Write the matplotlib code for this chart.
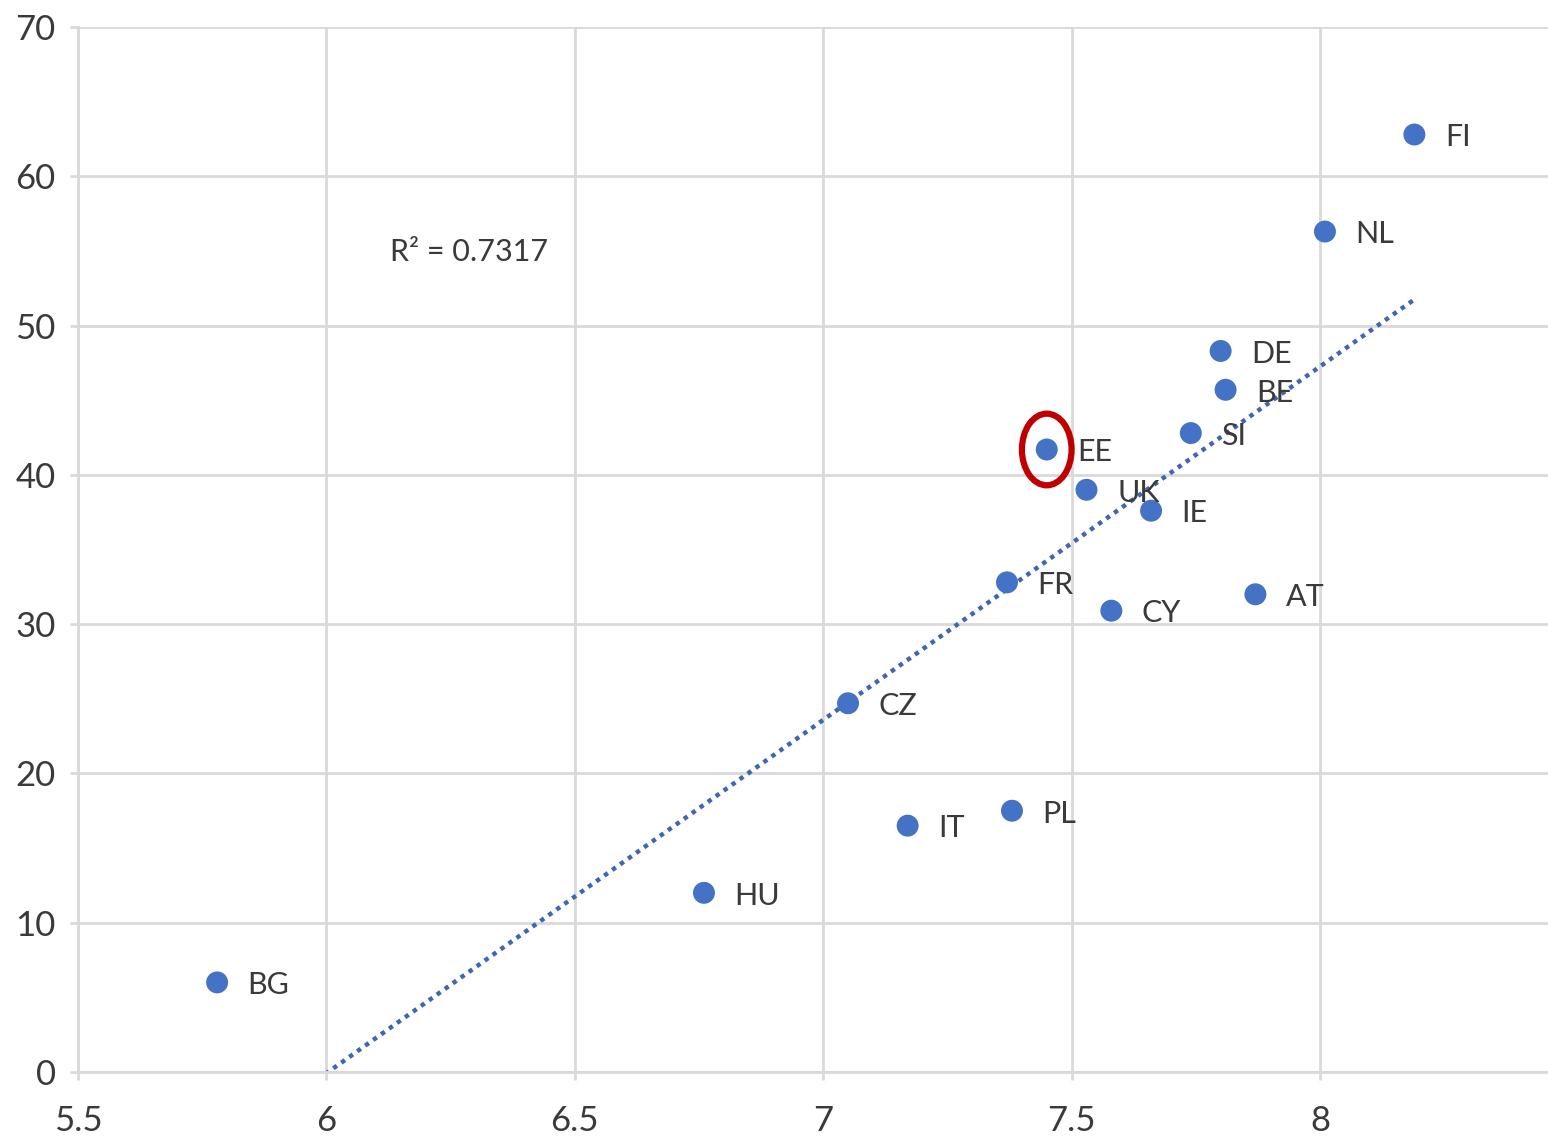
import matplotlib

matplotlib.use("Agg")

import matplotlib.pyplot as plt  # noqa: E402
import numpy as np  # noqa: E402
from matplotlib.patches import Ellipse  # noqa: E402

countries = ["BG", "HU", "IT", "PL", "CZ", "FR", "CY", "AT", "IE", "UK",
             "EE", "SI", "BE", "DE", "NL", "FI"]
x_values = [5.78, 6.76, 7.17, 7.38, 7.05, 7.37, 7.58, 7.87, 7.66, 7.53,
            7.45, 7.74, 7.81, 7.80, 8.01, 8.19]
y_values = [6.0, 12.0, 16.5, 17.5, 24.7, 32.8, 30.9, 32.0, 37.6, 39.0,
            41.7, 42.8, 45.7, 48.3, 56.3, 62.8]
highlight = "EE"
r_squared_label = "R\u00b2 = 0.7317"
x_ticks = [5.5, 6, 6.5, 7, 7.5, 8]
y_ticks = [0, 10, 20, 30, 40, 50, 60, 70]

BLUE = "#4472C4"
GRID = "#D9D9D9"
TEXT = "#3A3A3A"
FONT = ["Lato", "DejaVu Sans"]

plt.rcParams["font.family"] = FONT

fig = plt.figure(figsize=(15.48, 11.41), dpi=100)
ax = fig.add_axes([0.0504, 0.0605, 0.9496, 0.9158])
ax.set_xlim(5.5, 8.459)
ax.set_ylim(0, 70)

# trendline from a linear fit, clipped at y = 0 like the source chart
slope, intercept = np.polyfit(x_values, y_values, 1)
fit_x = np.linspace(min(x_values), max(x_values), 200)
fit_y = slope * fit_x + intercept
ax.plot(fit_x, fit_y, linestyle=(0, (1, 1.2)), color="#3F66B0", linewidth=3.2, zorder=2)

ax.scatter(x_values, y_values, s=250, color=BLUE, edgecolors="none", zorder=3)

for name, xv, yv in zip(countries, x_values, y_values):
    ax.annotate(name, (xv, yv), xytext=(22, -2), textcoords="offset points",
                ha="left", va="center", fontsize=22, color=TEXT, zorder=4)

hi = countries.index(highlight)
ax.add_patch(Ellipse((x_values[hi], y_values[hi]), width=0.1, height=4.8,
                     fill=False, edgecolor="#C00000", linewidth=4.5, zorder=5))

ax.text(6.128, 54.9, r_squared_label, ha="left", va="center", fontsize=22, color=TEXT)

ax.set_xticks(x_ticks)
ax.set_xticklabels([f"{t:g}" for t in x_ticks])
ax.set_yticks(y_ticks)
ax.grid(True, color=GRID, linewidth=2)
ax.set_axisbelow(True)
for side in ["top", "right"]:
    ax.spines[side].set_visible(False)
for side in ["left", "bottom"]:
    ax.spines[side].set_color(GRID)
    ax.spines[side].set_linewidth(2)
ax.tick_params(axis="both", colors=GRID, labelcolor=TEXT, labelsize=25,
               length=6, width=2, direction="out")
ax.tick_params(axis="y", pad=10)
ax.tick_params(axis="x", pad=18)

fig.savefig("out.png", dpi=100)
